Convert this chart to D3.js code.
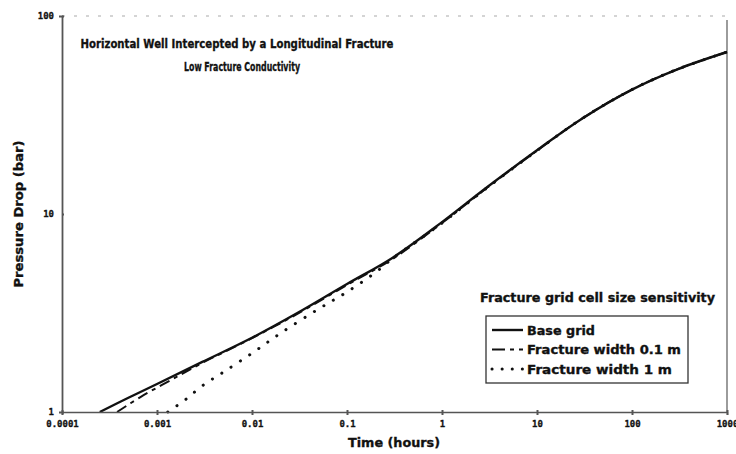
<!DOCTYPE html>
<meta charset="utf-8">
<head>
<style>
body { margin: 0; background: #fff; }
svg { display: block; }
.axis path, .axis line { stroke: #555; }
.axis text { font: bold 9px "DejaVu Sans Mono", monospace; fill: #111; stroke: #111; stroke-width: 0.3; }
.lbl { font-family: "DejaVu Sans", sans-serif; font-weight: bold; fill: #111; stroke: #111; stroke-width: 0.35; }
.curve { fill: none; stroke: #111; }
</style>
</head>
<body>
<svg width="736" height="454"></svg>
<script src="https://d3js.org/d3.v7.min.js"></script>
<script>

// time (hours) and pressure drop (bar)
var baseTime = [2.5e-4, 5e-4, 1e-3, 3e-3, 0.01, 0.03, 0.1, 0.3, 1, 3, 10, 30, 100, 300, 1000];
var basePress = [1.00, 1.18, 1.385, 1.79, 2.37, 3.16, 4.43, 6.0, 9.1, 13.7, 21.0, 30.4, 42.5, 53.8, 65.8];

var w01Time = [3.8e-4, 6.7e-4, 1.4e-3, 3e-3, 0.01, 0.03, 0.1, 0.3, 1, 3, 10, 30, 100, 300, 1000];
var w01Press = [1.00, 1.19, 1.45, 1.77, 2.36, 3.13, 4.38, 5.92, 9.0, 13.6, 20.9, 30.4, 42.5, 53.8, 65.8];

var w1Time = [1.3e-3, 2e-3, 3e-3, 5e-3, 0.01, 0.02, 0.05, 0.1, 0.2, 0.3, 1, 3, 10, 30, 100, 300, 1000];
var w1Press = [1.00, 1.156, 1.356, 1.59, 1.98, 2.50, 3.31, 4.04, 5.07, 5.95, 9.0, 13.6, 20.9, 30.4, 42.5, 53.8, 65.8];

var xTicks = [1e-4, 1e-3, 0.01, 0.1, 1, 10, 100, 1000];
var xTickLabels = ["0.0001", "0.001", "0.01", "0.1", "1", "10", "100", "1000"];
var yTicks = [1, 10, 100];
var yTickLabels = ["1", "10", "100"];

var seriesNames = ["Base grid", "Fracture width 0.1 m", "Fracture width 1 m"];

var svg = d3.select("svg"),
    plotL = 62, plotR = 727, plotT = 16, plotB = 412;

var x = d3.scaleLog().domain([1e-4, 1000]).range([plotL, plotR]);
var y = d3.scaleLog().domain([1, 100]).range([plotB, plotT]);

var series = [
  {name: seriesNames[0], t: baseTime, p: basePress, dash: null, width: 2.4, cap: "butt", legDash: null, legLen: 68},
  {name: seriesNames[1], t: w01Time, p: w01Press, dash: "11,5,4,5", width: 2, cap: "butt", legDash: "13,5,4,5", legLen: 154},
  {name: seriesNames[2], t: w1Time, p: w1Press, dash: "0.1,11", width: 3, cap: "round", legDash: "0.1,10", legLen: 145}
];

// frame: faint top and right edges
svg.append("line")
    .attr("x1", plotL).attr("x2", plotR).attr("y1", plotT).attr("y2", plotT)
    .attr("stroke", "#aaa").attr("stroke-width", 1.2).attr("stroke-dasharray", "3,9");
svg.append("line")
    .attr("x1", plotR).attr("x2", plotR).attr("y1", plotT + 4).attr("y2", plotB)
    .attr("stroke", "#666").attr("stroke-width", 1.3);

var line = d3.line()
    .curve(d3.curveCatmullRom.alpha(0.5))
    .x(function(d) { return x(d[0]); })
    .y(function(d) { return y(d[1]); });

svg.selectAll(".curve")
  .data(series)
  .enter().append("path")
    .attr("class", "curve")
    .attr("stroke-width", function(d) { return d.width; })
    .attr("stroke-dasharray", function(d) { return d.dash; })
    .attr("stroke-linecap", function(d) { return d.cap; })
    .attr("d", function(d) { return line(d.t.map(function(t, i) { return [t, d.p[i]]; })); });

// axes
var xAxis = svg.append("g")
    .attr("class", "axis")
    .attr("transform", "translate(0," + plotB + ")")
    .call(d3.axisBottom(x).tickValues(xTicks).tickSize(3)
      .tickFormat(function(d, i) { return xTickLabels[i]; }));
xAxis.select(".domain").attr("stroke-width", 1.3);
xAxis.selectAll(".tick line").attr("y1", -2).attr("stroke-width", 2);
xAxis.selectAll("text").attr("y", 9);

var yAxis = svg.append("g")
    .attr("class", "axis")
    .attr("transform", "translate(" + plotL + ",0)")
    .call(d3.axisLeft(y).tickValues(yTicks).tickSize(3)
      .tickFormat(function(d, i) { return yTickLabels[i]; }));
yAxis.select(".domain").attr("stroke-width", 1.8);
yAxis.selectAll(".tick line").attr("x2", 2).attr("stroke-width", 2);
yAxis.selectAll("text").attr("x", -8);

// axis titles
svg.append("text").attr("class", "lbl")
    .attr("x", 394).attr("y", 447).attr("text-anchor", "middle")
    .attr("font-size", 13).attr("textLength", 92).attr("lengthAdjust", "spacingAndGlyphs")
    .text("Time (hours)");
svg.append("text").attr("class", "lbl")
    .attr("transform", "translate(23,214) rotate(-90)").attr("text-anchor", "middle")
    .attr("font-size", 12.5).attr("textLength", 147).attr("lengthAdjust", "spacingAndGlyphs")
    .text("Pressure Drop (bar)");

// chart title
svg.append("text").attr("class", "lbl")
    .attr("x", 237).attr("y", 48).attr("text-anchor", "middle")
    .attr("font-size", 13).attr("textLength", 313).attr("lengthAdjust", "spacingAndGlyphs")
    .text("Horizontal Well Intercepted by a Longitudinal Fracture");
svg.append("text").attr("class", "lbl")
    .attr("x", 242).attr("y", 71).attr("text-anchor", "middle")
    .attr("font-size", 13).attr("textLength", 116).attr("lengthAdjust", "spacingAndGlyphs")
    .text("Low Fracture Conductivity");

// legend
svg.append("text").attr("class", "lbl")
    .attr("x", 480).attr("y", 302)
    .attr("font-size", 12.5).attr("textLength", 235).attr("lengthAdjust", "spacingAndGlyphs")
    .text("Fracture grid cell size sensitivity");
svg.append("rect")
    .attr("x", 486).attr("y", 316).attr("width", 202).attr("height", 67)
    .attr("fill", "none").attr("stroke", "#333").attr("stroke-width", 1.3);

var leg = svg.selectAll(".leg")
  .data(series)
  .enter().append("g")
    .attr("class", "leg")
    .attr("transform", function(d, i) { return "translate(492," + (330 + i * 19.5) + ")"; });
leg.append("line")
    .attr("x1", 0).attr("x2", 31).attr("y1", 0).attr("y2", 0)
    .attr("stroke", "#111")
    .attr("stroke-width", function(d) { return d.width; })
    .attr("stroke-dasharray", function(d) { return d.legDash; })
    .attr("stroke-linecap", function(d) { return d.cap; });
leg.append("text").attr("class", "lbl")
    .attr("x", 35).attr("y", 4.5).attr("font-size", 12.5)
    .attr("textLength", function(d) { return d.legLen; }).attr("lengthAdjust", "spacingAndGlyphs")
    .text(function(d) { return d.name; });

</script>
</body>
</html>
